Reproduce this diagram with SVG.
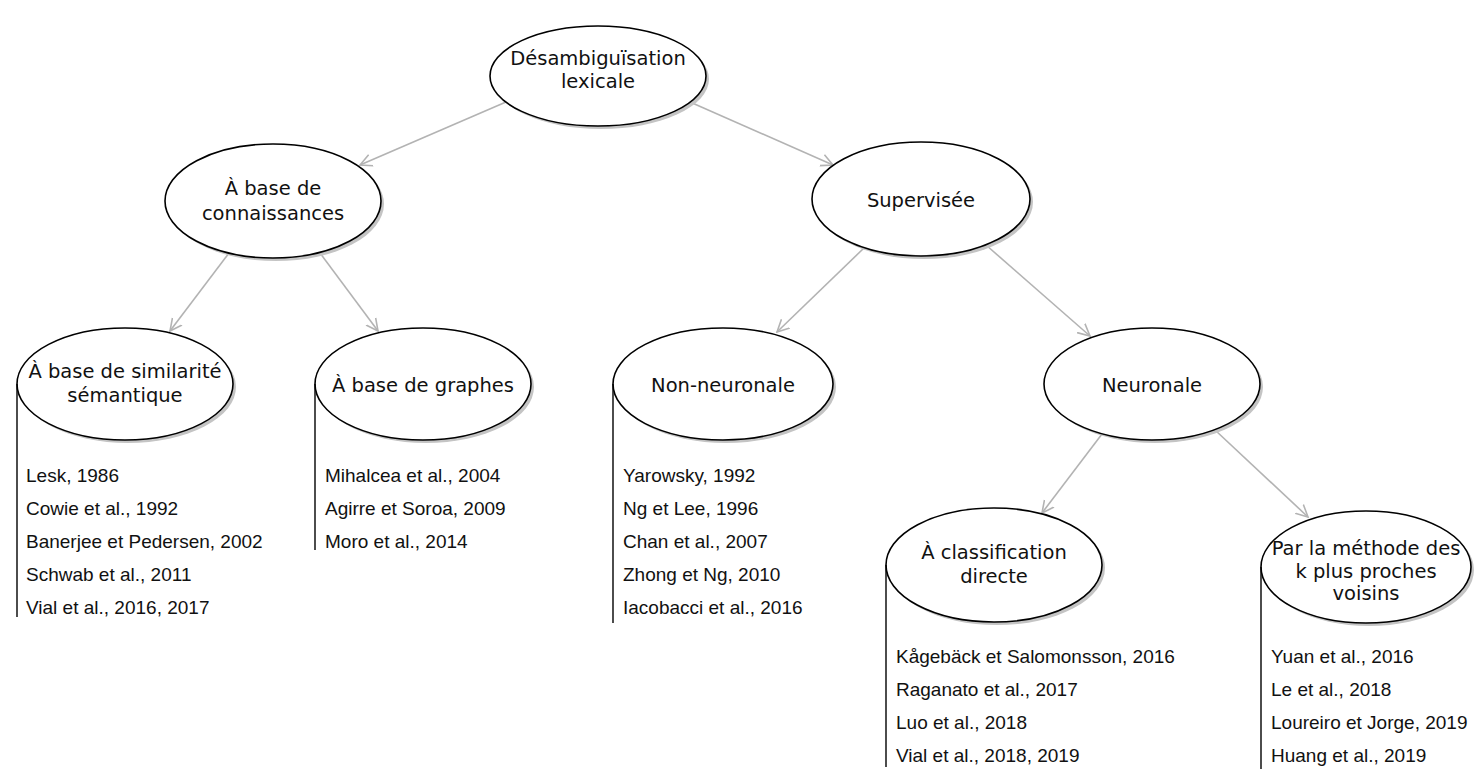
<svg xmlns="http://www.w3.org/2000/svg" width="1477" height="771" viewBox="0 0 1477 771">
<defs>
<marker id="arr" markerUnits="userSpaceOnUse" markerWidth="14" markerHeight="14" refX="12" refY="6" orient="auto" viewBox="0 0 14 12">
<path d="M0,0 L12,6 L0,12" fill="none" stroke="#b3b3b3" stroke-width="1.6"/>
</marker>
</defs>
<style>
.sh{fill:#c4c4c4;}
.el{fill:#ffffff;stroke:#000000;stroke-width:1.6;}
.lb{font-family:"DejaVu Sans",Verdana,sans-serif;font-size:19.5px;fill:#111;text-anchor:middle;}
.rf{font-family:"Liberation Sans",Arial,sans-serif;font-size:19px;fill:#111;}
.vl{stroke:#000;stroke-width:1.4;fill:none;}
.cn{stroke:#b3b3b3;stroke-width:1.6;fill:none;marker-end:url(#arr);}
</style>
<rect width="1477" height="771" fill="#ffffff"/>
<g id="connectors">
<line class="cn" x1="506" y1="102" x2="360" y2="165"/>
<line class="cn" x1="690" y1="102" x2="833" y2="165"/>
<line class="cn" x1="229" y1="253" x2="170" y2="331"/>
<line class="cn" x1="320" y1="253" x2="378" y2="331"/>
<line class="cn" x1="864" y1="248" x2="777" y2="332"/>
<line class="cn" x1="986" y1="245" x2="1090" y2="336"/>
<line class="cn" x1="1102" y1="434" x2="1042" y2="513"/>
<line class="cn" x1="1215" y1="430" x2="1308" y2="517"/>
</g>
<g id="root">
<ellipse class="sh" cx="601" cy="79" rx="108" ry="50"/>
<ellipse class="el" cx="598" cy="76" rx="108" ry="50"/>
<text class="lb" x="598" y="65">Désambiguïsation</text>
<text class="lb" x="598" y="88">lexicale</text>
</g>
<g id="connaissances">
<ellipse class="sh" cx="276" cy="204" rx="108" ry="57"/>
<ellipse class="el" cx="273" cy="201" rx="108" ry="57"/>
<text class="lb" x="273" y="195">À base de</text>
<text class="lb" x="273" y="220">connaissances</text>
</g>
<g id="supervisee">
<ellipse class="sh" cx="924" cy="202" rx="109" ry="57"/>
<ellipse class="el" cx="921" cy="199" rx="109" ry="57"/>
<text class="lb" x="921" y="207">Supervisée</text>
</g>
<g id="similarite">
<ellipse class="sh" cx="128" cy="387" rx="108" ry="56"/>
<ellipse class="el" cx="125" cy="384" rx="108" ry="56"/>
<text class="lb" x="125" y="378">À base de similarité</text>
<text class="lb" x="125" y="402">sémantique</text>
<line class="vl" x1="17" y1="384" x2="17" y2="617"/>
<text class="rf" x="26" y="482">Lesk, 1986</text>
<text class="rf" x="26" y="515">Cowie et al., 1992</text>
<text class="rf" x="26" y="548">Banerjee et Pedersen, 2002</text>
<text class="rf" x="26" y="581">Schwab et al., 2011</text>
<text class="rf" x="26" y="614">Vial et al., 2016, 2017</text>
</g>
<g id="graphes">
<ellipse class="sh" cx="426" cy="387" rx="108" ry="56"/>
<ellipse class="el" cx="423" cy="384" rx="108" ry="56"/>
<text class="lb" x="423" y="392">À base de graphes</text>
<line class="vl" x1="315" y1="384" x2="315" y2="550"/>
<text class="rf" x="325" y="482">Mihalcea et al., 2004</text>
<text class="rf" x="325" y="515">Agirre et Soroa, 2009</text>
<text class="rf" x="325" y="548">Moro et al., 2014</text>
</g>
<g id="nonneuronale">
<ellipse class="sh" cx="726" cy="387" rx="110" ry="56"/>
<ellipse class="el" cx="723" cy="384" rx="110" ry="56"/>
<text class="lb" x="723" y="392">Non-neuronale</text>
<line class="vl" x1="613" y1="384" x2="613" y2="623"/>
<text class="rf" x="623" y="482">Yarowsky, 1992</text>
<text class="rf" x="623" y="515">Ng et Lee, 1996</text>
<text class="rf" x="623" y="548">Chan et al., 2007</text>
<text class="rf" x="623" y="581">Zhong et Ng, 2010</text>
<text class="rf" x="623" y="614">Iacobacci et al., 2016</text>
</g>
<g id="neuronale">
<ellipse class="sh" cx="1155" cy="387" rx="108" ry="56"/>
<ellipse class="el" cx="1152" cy="384" rx="108" ry="56"/>
<text class="lb" x="1152" y="392">Neuronale</text>
</g>
<g id="classification">
<ellipse class="sh" cx="997" cy="568" rx="108" ry="57"/>
<ellipse class="el" cx="994" cy="565" rx="108" ry="57"/>
<text class="lb" x="994" y="559">À classification</text>
<text class="lb" x="994" y="583">directe</text>
<line class="vl" x1="886" y1="565" x2="886" y2="767"/>
<text class="rf" x="896" y="663">Kågebäck et Salomonsson, 2016</text>
<text class="rf" x="896" y="696">Raganato et al., 2017</text>
<text class="rf" x="896" y="729">Luo et al., 2018</text>
<text class="rf" x="896" y="762">Vial et al., 2018, 2019</text>
</g>
<g id="knn">
<ellipse class="sh" cx="1369" cy="570" rx="105" ry="56"/>
<ellipse class="el" cx="1366" cy="567" rx="105" ry="56"/>
<text class="lb" x="1366" y="555">Par la méthode des</text>
<text class="lb" x="1366" y="578">k plus proches</text>
<text class="lb" x="1366" y="600">voisins</text>
<line class="vl" x1="1261" y1="567" x2="1261" y2="769"/>
<text class="rf" x="1271" y="663">Yuan et al., 2016</text>
<text class="rf" x="1271" y="696">Le et al., 2018</text>
<text class="rf" x="1271" y="729">Loureiro et Jorge, 2019</text>
<text class="rf" x="1271" y="762">Huang et al., 2019</text>
</g>
</svg>
